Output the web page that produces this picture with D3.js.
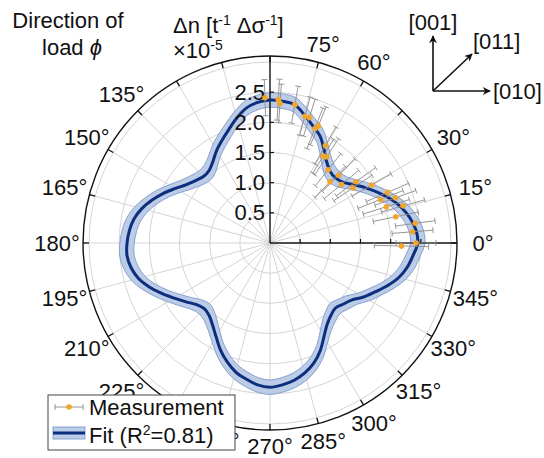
<!DOCTYPE html>
<html><head><meta charset="utf-8">
<script src="https://cdn.jsdelivr.net/npm/d3@7"></script>
<style>
body{margin:0;background:#fff}
svg{display:block}
text{font-family:"Liberation Sans",Arial,sans-serif;fill:#111}
</style>
</head><body>
<svg id="c" width="544" height="458"></svg>
<script>
// ---------- data ----------
const fitAngles = [0,5,10,15,20,25,30,35,40,45,50,55,60,65,70,75,80,85,
  90,95,100,105,110,115,120,125,130,135,140,145,150,155,160,165,170,175,
  180,185,190,195,200,205,210,215,220,225,230,235,240,245,250,255,260,265,
  270,275,280,285,290,295,300,305,310,315,320,325,330,335,340,345,350,355];
const fitValues = [2.45,2.43,2.36,2.26,2.13,1.98,1.83,1.69,1.57,1.53,1.55,1.64,1.79,1.96,2.07,2.20,2.33,2.36,
  2.37,2.34,2.27,2.14,2.00,1.88,1.77,1.65,1.57,1.56,1.61,1.69,1.81,1.95,2.08,2.20,2.29,2.34,
  2.37,2.38,2.34,2.26,2.13,1.98,1.83,1.70,1.59,1.54,1.57,1.66,1.79,1.95,2.09,2.21,2.29,2.36,
  2.39,2.36,2.31,2.23,2.12,1.97,1.79,1.65,1.57,1.53,1.58,1.65,1.79,1.92,2.07,2.21,2.31,2.38];
const fitBandHalfWidth = 0.12;

const measAngles = [92.0,86.7,85.9,79.8,74.6,72.6,68.6,67.6,60.4,58.5,56.7,51.6,44.6,45.6,
  39.3,35.5,33.6,29.7,21.5,23.3,19.8,17.3,15.6,11.8,7.7,4.5,0.0,358.7];
const measValues = [2.41,2.38,2.32,2.33,2.18,2.18,2.04,2.10,1.86,1.69,1.71,1.55,1.60,1.42,
  1.53,1.75,1.65,1.94,1.97,2.12,2.21,2.02,2.29,2.13,2.43,2.37,2.42,2.18];
const measErrors = [0.30,0.34,0.32,0.31,0.33,0.32,0.36,0.34,0.35,0.33,0.36,0.34,0.38,0.36,
  0.37,0.40,0.38,0.37,0.40,0.38,0.36,0.40,0.37,0.38,0.33,0.34,0.33,0.45];

const radialTicks = [0.5,1.0,1.5,2.0,2.5];
const radialTickLabels = ["0.5","1.0","1.5","2.0","2.5"];
const gridRings = [0.5,1.0,1.5,2.0,2.5,3.0];
const angleTicks = [0,15,30,45,60,75,90,105,120,135,150,165,180,195,210,225,240,255,270,285,300,315,330,345];
const angleLabels = ["0°","15°","30°","","60°","75°","","","","135°","150°","165°","180°","195°","210°","225°","","255°","270°","285°","300°","315°","330°","345°"];

// ---------- layout ----------
const cx = 270, cy = 243, R = 187;
const svg = d3.select("#c");
const r = d3.scaleLinear().domain([0, 3.1]).range([0, R]);
const rad = d => d * Math.PI / 180;
const toA = d => rad(90 - d);
const pt = (deg, rr) => [cx + rr * Math.cos(rad(deg)), cy - rr * Math.sin(rad(deg))];

const g = svg.append("g").attr("transform", `translate(${cx},${cy})`);

// grid rings
g.selectAll("circle.ring").data(gridRings).join("circle")
  .attr("r", d => r(d)).attr("fill", "none").attr("stroke", "#d4d4d4").attr("stroke-width", 1);
// spokes
g.selectAll("line.spoke").data(angleTicks.filter(a => a !== 0 && a !== 90)).join("line")
  .attr("x1", 0).attr("y1", 0)
  .attr("x2", d => R * Math.cos(rad(d))).attr("y2", d => -R * Math.sin(rad(d)))
  .attr("stroke", "#d4d4d4").attr("stroke-width", 1);

// fit band
const lr = d3.lineRadial().curve(d3.curveCatmullRomClosed.alpha(0.5))
  .angle(d => toA(d[0])).radius(d => r(d[1]));
const outer = fitAngles.map((a, i) => [a, fitValues[i] + fitBandHalfWidth]);
const inner = fitAngles.map((a, i) => [a, fitValues[i] - fitBandHalfWidth]);
const mid = fitAngles.map((a, i) => [a, fitValues[i]]);
g.append("path").attr("d", lr(outer) + lr(inner)).attr("fill-rule", "evenodd")
  .attr("fill", "#bccbe6");
[outer, inner].forEach(p => g.append("path").attr("d", lr(p)).attr("fill", "none")
  .attr("stroke", "#7d9bd0").attr("stroke-width", 0.9));

// axes lines (0° and 90°)
g.append("line").attr("x1", 0).attr("y1", 0).attr("x2", R).attr("y2", 0).attr("stroke", "#111").attr("stroke-width", 1.4);
g.append("line").attr("x1", 0).attr("y1", 0).attr("x2", 0).attr("y2", -R).attr("stroke", "#111").attr("stroke-width", 1.4);
g.selectAll("line.rtv").data(radialTicks).join("line")
  .attr("x1", 0).attr("x2", 4).attr("y1", d => -r(d)).attr("y2", d => -r(d))
  .attr("stroke", "#111").attr("stroke-width", 1.2);
g.selectAll("line.rth").data(radialTicks).join("line")
  .attr("y1", 0).attr("y2", -4).attr("x1", d => r(d)).attr("x2", d => r(d))
  .attr("stroke", "#111").attr("stroke-width", 1.2);

// fit line
g.append("path").attr("d", lr(mid)).attr("fill", "none")
  .attr("stroke", "#0b2e7e").attr("stroke-width", 3);

// error bars
const eb = svg.append("g").attr("stroke", "#8a8a8a").attr("stroke-width", 0.9).attr("fill", "none");
measAngles.forEach((a, i) => {
  const v = measValues[i], e = measErrors[i];
  const p1 = pt(a, r(v - e)), p2 = pt(a, r(v + e));
  const px = Math.sin(rad(a)) * 3, py = Math.cos(rad(a)) * 3;
  eb.append("line").attr("x1", p1[0]).attr("y1", p1[1]).attr("x2", p2[0]).attr("y2", p2[1]);
  [p1, p2].forEach(p => eb.append("line")
    .attr("x1", p[0] - px).attr("y1", p[1] - py).attr("x2", p[0] + px).attr("y2", p[1] + py));
});
// dots
svg.append("g").selectAll("circle").data(measAngles.map((a, i) => [a, measValues[i]])).join("circle")
  .attr("cx", d => pt(d[0], r(d[1]))[0]).attr("cy", d => pt(d[0], r(d[1]))[1])
  .attr("r", 2.8).attr("fill", "#f2a52b");

// outer circle & ticks
g.append("circle").attr("r", R).attr("fill", "none").attr("stroke", "#111").attr("stroke-width", 1.4);
g.selectAll("line.at").data(angleTicks).join("line")
  .attr("x1", d => R * Math.cos(rad(d))).attr("y1", d => -R * Math.sin(rad(d)))
  .attr("x2", d => (R - 6) * Math.cos(rad(d))).attr("y2", d => -(R - 6) * Math.sin(rad(d)))
  .attr("stroke", "#111").attr("stroke-width", 1.3);

// angle labels
const LR = d => 203 + 10 * Math.abs(Math.cos(rad(d)));
g.selectAll("text.al").data(angleTicks.map((a, i) => [a, angleLabels[i]]).filter(d => d[1])).join("text")
  .attr("x", d => LR(d[0]) * Math.cos(rad(d[0]))).attr("y", d => -LR(d[0]) * Math.sin(rad(d[0])))
  .attr("text-anchor", "middle").attr("dominant-baseline", "central")
  .attr("font-size", 22).text(d => d[1]);

// radial labels
g.selectAll("text.rl").data(radialTicks.map((t, i) => [t, radialTickLabels[i]])).join("text")
  .attr("x", -5).attr("y", d => -r(d[0]))
  .attr("text-anchor", "end").attr("dominant-baseline", "central")
  .attr("font-size", 22).text(d => d[1]);

// titles
svg.append("text").attr("x", 68).attr("y", 28).attr("text-anchor", "middle").attr("font-size", 22).text("Direction of");
const t2 = svg.append("text").attr("x", 72).attr("y", 55).attr("text-anchor", "middle").attr("font-size", 22);
t2.append("tspan").text("load ");
t2.append("tspan").attr("font-style", "italic").text("ϕ");

const yl = svg.append("text").attr("x", 173).attr("y", 33).attr("font-size", 22);
yl.append("tspan").text("Δn [t");
yl.append("tspan").attr("font-size", 14).attr("dy", -8).text("-1");
yl.append("tspan").attr("dy", 8).text(" Δσ");
yl.append("tspan").attr("font-size", 14).attr("dy", -8).text("-1");
yl.append("tspan").attr("dy", 8).text("]");
const ex = svg.append("text").attr("x", 173).attr("y", 58).attr("font-size", 22);
ex.append("tspan").text("×10");
ex.append("tspan").attr("font-size", 14).attr("dy", -8).text("-5");

// inset crystal axes
const defs = svg.append("defs");
defs.append("marker").attr("id", "ah").attr("viewBox", "0 0 10 10").attr("refX", 9).attr("refY", 5)
  .attr("markerWidth", 10).attr("markerHeight", 8).attr("markerUnits", "userSpaceOnUse").attr("orient", "auto")
  .append("path").attr("d", "M0,0 L10,5 L0,10 L3,5 Z").attr("fill", "#111");
const ox = 433, oy = 91;
[[433, 36], [490, 91], [472, 54]].forEach(p => svg.append("line")
  .attr("x1", ox).attr("y1", oy).attr("x2", p[0]).attr("y2", p[1])
  .attr("stroke", "#111").attr("stroke-width", 1.6).attr("marker-end", "url(#ah)"));
svg.append("text").attr("x", 433).attr("y", 30).attr("text-anchor", "middle").attr("font-size", 22).text("[001]");
svg.append("text").attr("x", 473).attr("y", 49).attr("font-size", 22).text("[011]");
svg.append("text").attr("x", 493).attr("y", 99).attr("font-size", 22).text("[010]");

// legend
const lg = svg.append("g");
lg.append("rect").attr("x", 48).attr("y", 395).attr("width", 187).attr("height", 55)
  .attr("fill", "#fff").attr("stroke", "#444").attr("stroke-width", 1);
lg.append("line").attr("x1", 55).attr("x2", 83).attr("y1", 407).attr("y2", 407).attr("stroke", "#8a8a8a").attr("stroke-width", 0.9);
[55, 83].forEach(x => lg.append("line").attr("x1", x).attr("x2", x).attr("y1", 404).attr("y2", 410).attr("stroke", "#8a8a8a").attr("stroke-width", 0.9));
lg.append("circle").attr("cx", 69).attr("cy", 407).attr("r", 2.8).attr("fill", "#f2a52b");
lg.append("text").attr("x", 89).attr("y", 415).attr("font-size", 22).text("Measurement");
lg.append("rect").attr("x", 53).attr("y", 427).attr("width", 32).attr("height", 12)
  .attr("fill", "#bccbe6").attr("stroke", "#7d9bd0").attr("stroke-width", 0.9);
lg.append("line").attr("x1", 53).attr("x2", 85).attr("y1", 433).attr("y2", 433).attr("stroke", "#0b2e7e").attr("stroke-width", 3);
const ft = lg.append("text").attr("x", 89).attr("y", 443).attr("font-size", 22);
ft.append("tspan").text("Fit (R");
ft.append("tspan").attr("font-size", 14).attr("dy", -8).text("2");
ft.append("tspan").attr("dy", 8).text("=0.81)");
</script>
</body></html>
